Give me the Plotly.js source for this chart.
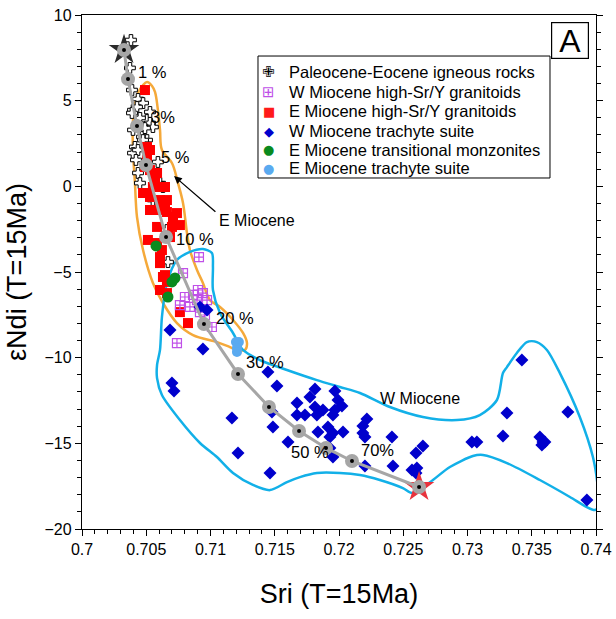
<!DOCTYPE html>
<html><head><meta charset="utf-8">
<script src="https://cdn.plot.ly/plotly-3.0.1.min.js"></script>
<style>html,body{margin:0;padding:0;background:#fff}#chart{width:616px;height:619px}</style>
</head><body><div id="chart"></div>
<script>
// Paleocene-Eocene igneous rocks
const peX = [0.70381,0.70373,0.70389,0.70436,0.70475,0.70397,0.70428,0.70506,0.70529,0.70552,0.70389,0.70397,0.70467,0.70412,0.70397,0.70436,0.70506,0.70475,0.70436,0.70451,0.70591,0.70607,0.70630,0.70552,0.70661,0.70669,0.70451,0.70490,0.70420,0.70529];
const peY = [8.54,6.91,5.62,5.10,4.86,4.45,4.63,3.87,3.70,3.46,4.28,3.29,2.88,2.30,1.94,2.12,2.70,2.70,0.78,0.19,1.42,0.19,-0.04,-0.80,-2.55,-4.42,3.99,3.40,1.54,4.34];
// W Miocene high-Sr/Y granitoids
const wgX = [0.70910,0.70786,0.70801,0.70902,0.70941,0.70895,0.70840,0.70762,0.70973,0.71011,0.70739,0.70918,0.70957,0.70864];
const wgY = [-4.13,-5.06,-6.46,-6.05,-6.23,-6.64,-7.04,-6.93,-6.64,-8.21,-9.15,-7.34,-7.51,-6.34];
// E Miocene high-Sr/Y granitoids
const egX = [0.70490,0.70506,0.70529,0.70506,0.70490,0.70475,0.70529,0.70584,0.70646,0.70529,0.70591,0.70661,0.70739,0.70584,0.70700,0.70762,0.70513,0.70584,0.70607,0.70622,0.70646,0.70661,0.70661,0.70762,0.70825,0.70584,0.70552,0.70607,0.70661,0.70708,0.70685,0.70607,0.70630,0.70607,0.70529,0.70568,0.70646];
const egY = [5.62,2.30,2.12,1.71,1.13,-0.39,-0.62,-0.04,-0.04,-1.38,-1.38,-1.50,-1.56,-2.37,-2.37,-2.26,-3.13,-3.31,-4.13,-3.72,-5.18,-5.58,-6.23,-7.34,-7.98,0.78,-0.04,-0.80,-0.80,-1.79,-2.96,-4.48,-5.29,-6.05,0.95,0.37,-1.09];
// W Miocene trachyte suite
const wtX = [0.70918,0.70973,0.70685,0.70941,0.70700,0.70716,0.71447,0.71517,0.71813,0.71968,0.71774,0.71673,0.71992,0.72023,0.71813,0.71875,0.71968,0.71673,0.71735,0.71828,0.71953,0.71478,0.71167,0.71486,0.71836,0.71914,0.71953,0.72031,0.71929,0.71603,0.71929,0.71953,0.71214,0.71463,0.72217,0.72186,0.72186,0.72202,0.72412,0.72653,0.72599,0.72202,0.72420,0.72568,0.72606,0.72599,0.73034,0.73073,0.73276,0.73307,0.73423,0.73781,0.73563,0.73587,0.73602,0.73579,0.73929];
const wtY = [-7.04,-7.22,-8.39,-9.50,-11.48,-11.95,-10.84,-11.66,-11.83,-11.95,-12.30,-12.65,-12.47,-12.82,-12.88,-13.06,-13.06,-13.35,-13.35,-13.35,-13.35,-13.17,-13.52,-14.05,-14.34,-14.05,-14.40,-14.34,-14.63,-14.92,-15.27,-15.80,-15.57,-16.73,-13.58,-13.99,-14.40,-14.63,-14.63,-15.16,-15.57,-16.33,-16.33,-16.56,-16.44,-16.73,-14.92,-14.92,-14.57,-13.23,-10.14,-13.17,-14.63,-14.92,-14.92,-15.10,-18.31];
// E Miocene transitional monzonites
const emX = [0.70576,0.70724,0.70700,0.70669];
const emY = [-3.48,-5.35,-5.58,-6.46];
// E Miocene trachyte suite
const etX = [0.71198,0.71221,0.71206,0.71206];
const etY = [-9.09,-9.09,-9.44,-9.67];
// Mixing curve nodes
const mixX = [0.70327,0.70358,0.70428,0.70498,0.70654,0.70949,0.71214,0.71455,0.71689,0.71899,0.72101,0.72623];
const mixY = [7.96,6.26,3.52,1.24,-2.96,-8.04,-10.95,-12.88,-14.28,-15.27,-16.03,-17.55];
const pctLabels = ["1 %","3%","5 %","10 %","20 %","30 %","50 %","70%"];
const pctX = [0.70552,0.70630,0.70724,0.70879,0.71190,0.71424,0.71774,0.72303];
const pctY = [6.67,4.05,1.71,-3.07,-7.69,-10.25,-15.51,-15.39];
// E Miocene field (orange)
const eFieldX = [0.70506,0.70545,0.70568,0.70591,0.70607,0.70622,0.70700,0.70747,0.70786,0.70817,0.70840,0.70895,0.70941,0.70996,0.71074,0.71175,0.71253,0.71284,0.71268,0.71206,0.71151,0.71050,0.70864,0.70739,0.70630,0.70552,0.70475,0.70428,0.70412,0.70397,0.70397,0.70436,0.70475,0.70506];
const eFieldY = [6.09,5.86,5.51,4.45,3.29,2.12,1.36,0.19,-0.97,-2.73,-3.72,-4.88,-5.64,-6.64,-7.04,-7.80,-8.56,-9.15,-9.55,-9.55,-9.38,-9.09,-8.68,-7.98,-6.81,-5.64,-3.72,-1.79,0.19,2.12,3.87,5.45,5.91,6.09];
// W Miocene field (blue)
const wFieldX = [0.70739,0.70840,0.70941,0.71011,0.71019,0.71019,0.71074,0.71175,0.71253,0.71385,0.71595,0.71828,0.72007,0.72163,0.72396,0.72653,0.72918,0.73096,0.73229,0.73276,0.73307,0.73384,0.73462,0.73540,0.73618,0.73719,0.73874,0.73976,0.74014,0.74022,0.73991,0.73929,0.73797,0.73563,0.73307,0.73120,0.73042,0.72863,0.72731,0.72622,0.72567,0.72497,0.72318,0.72163,0.72007,0.71828,0.71696,0.71595,0.71463,0.71330,0.71175,0.71050,0.70918,0.70762,0.70622,0.70584,0.70584,0.70607,0.70622,0.70661,0.70739];
const wFieldY = [-4.30,-3.83,-3.66,-3.89,-4.71,-6.05,-7.39,-8.56,-9.55,-10.14,-10.72,-11.31,-11.71,-12.06,-12.88,-13.46,-13.64,-13.35,-12.47,-10.90,-10.55,-9.73,-9.09,-9.09,-9.55,-10.90,-13.46,-15.80,-17.55,-18.72,-18.89,-18.72,-18.13,-17.14,-16.15,-15.68,-15.74,-16.38,-17.14,-17.73,-17.90,-17.61,-17.14,-16.85,-16.73,-16.73,-16.97,-17.26,-17.73,-17.43,-16.73,-15.80,-14.98,-13.64,-12.18,-11.19,-10.43,-9.55,-7.63,-5.64,-4.30];
// Legend entries
const legendNames = ["Paleocene-Eocene igneous rocks","W Miocene high-Sr/Y granitoids","E Miocene high-Sr/Y granitoids","W Miocene trachyte suite","E Miocene transitional monzonites","E Miocene trachyte suite"];
const legendGlyphs = ["✙","⊞","■","◆","●","●"];
const legendColors = ["#000000","#c050e8","#ff1a1a","#0000cc","#0a8a1e","#5aaaf0"];

const FONT = "Arial, 'Liberation Sans', sans-serif";
const traces = [
  {x:eFieldX,y:eFieldY,mode:'lines',line:{color:'#f5a93a',width:2.5,shape:'spline',smoothing:1},hoverinfo:'skip'},
  {x:wFieldX,y:wFieldY,mode:'lines',line:{color:'#12b0e8',width:2.5,shape:'spline',smoothing:0.8},hoverinfo:'skip'},
  {x:peX,y:peY,mode:'markers',name:legendNames[0],
   marker:{symbol:'cross',size:9,color:'#ffffff',line:{color:'#000000',width:1}}},
  {x:egX,y:egY,mode:'markers',name:legendNames[2],
   marker:{symbol:'square',size:10,color:'#ff0000',line:{width:0}}},
  {x:wgX,y:wgY,mode:'markers',name:legendNames[1],
   marker:{symbol:'square-cross-open',size:9,color:'#c050e8',line:{width:1.2}}},
  {x:wtX,y:wtY,mode:'markers',name:legendNames[3],
   marker:{symbol:'diamond',size:10,color:'#0000cc',line:{width:0}}},
  {x:emX,y:emY,mode:'markers',name:legendNames[4],
   marker:{symbol:'circle',size:11,color:'#0a8a1e',line:{width:0}}},
  {x:etX,y:etY,mode:'markers',name:legendNames[5],
   marker:{symbol:'circle',size:10,color:'#5aaaf0',line:{width:0}}},
  {x:[mixX[0]],y:[mixY[0]],mode:'markers',hoverinfo:'skip',
   marker:{symbol:'star',size:23,color:'#2a2a2a',line:{width:0}}},
  {x:[mixX[mixX.length-1]],y:[mixY[mixY.length-1]],mode:'markers',hoverinfo:'skip',
   marker:{symbol:'star',size:23,color:'#e8323c',line:{width:0}}},
  {x:mixX,y:mixY,mode:'lines+markers',hoverinfo:'skip',
   line:{color:'#a6a6a6',width:3},marker:{symbol:'circle',size:14,color:'#a6a6a6'}},
  {x:mixX,y:mixY,mode:'markers',hoverinfo:'skip',
   marker:{symbol:'circle',size:4,color:'#000000'}}
];

const annotations = pctLabels.map((t,i)=>({x:pctX[i],y:pctY[i],text:t,showarrow:false,
  font:{family:FONT,size:16.5,color:'#000'},xanchor:'center',yanchor:'middle'}));
annotations.push({x:0.72630,y:-12.41,text:'W Miocene',showarrow:false,font:{family:FONT,size:16,color:'#000'}});
annotations.push({x:0.71362,y:-2.02,text:'E Miocene',showarrow:false,font:{family:FONT,size:16,color:'#000'}});
annotations.push({x:0.70716,y:0.60,ax:0.71050,ay:-1.56,axref:'x',ayref:'y',text:'',showarrow:true,
  arrowhead:2,arrowsize:1.2,arrowwidth:1.3,arrowcolor:'#000'});
annotations.push({xref:'paper',yref:'paper',x:0.9485,y:0.9513,xanchor:'center',yanchor:'middle',text:'A',showarrow:false,
  font:{family:FONT,size:32,color:'#000'},bordercolor:'#000',borderwidth:1.2,borderpad:0,bgcolor:'#fff',width:36,height:35});

// manual legend (rows)
const legTop = 0.9202, legBottom = 0.6829;
const rowY = [0.8891,0.8502,0.8132,0.7743,0.7374,0.7023];
legendNames.forEach((n,i)=>{
  annotations.push({xref:'paper',yref:'paper',x:0.3638,y:rowY[i],xanchor:'center',yanchor:'middle',text:legendGlyphs[i],
    showarrow:false,font:{family:"'DejaVu Sans', sans-serif",size:(i===0?15:(i===1?15:13)),color:legendColors[i]}});
  annotations.push({xref:'paper',yref:'paper',x:0.3988,y:rowY[i],xanchor:'left',yanchor:'middle',text:n,
    showarrow:false,font:{family:FONT,size:16.5,color:'#000'}});
});

const layout = {
  width:616,height:619,
  margin:{l:82,r:20,t:15,b:90},
  paper_bgcolor:'#fff',plot_bgcolor:'#fff',
  font:{family:FONT,color:'#000'},
  showlegend:false,
  xaxis:{range:[0.7,0.74],dtick:0.005,tick0:0.7,ticks:'outside',ticklen:6,tickwidth:1,tickcolor:'#000',
    showline:true,linecolor:'#000',linewidth:1.2,mirror:true,showgrid:false,zeroline:false,
    minor:{dtick:0.001,ticks:'outside',ticklen:4,tickcolor:'#000',showgrid:false},
    tickfont:{family:FONT,size:16,color:'#000'},
    title:{text:'Sri (T=15Ma)',font:{family:FONT,size:27,color:'#000'},standoff:26}},
  yaxis:{range:[-20,10],dtick:5,tick0:0,ticks:'outside',ticklen:6,tickwidth:1,tickcolor:'#000',
    showline:true,linecolor:'#000',linewidth:1.2,mirror:'ticks',showgrid:false,zeroline:false,
    minor:{dtick:1,ticks:'outside',ticklen:4,tickcolor:'#000',showgrid:false},
    tickfont:{family:FONT,size:16,color:'#000'},
    title:{text:'εNdi (T=15Ma)',font:{family:FONT,size:27,color:'#000'},standoff:10}},
  shapes:[{type:'rect',xref:'paper',yref:'paper',x0:0.3424,x1:0.9105,y0:legBottom,y1:legTop,
    line:{color:'#000',width:1},fillcolor:'#fff',layer:'above'}],
  annotations:annotations
};
Plotly.newPlot('chart',traces.map(t=>Object.assign({showlegend:false},t)),layout,{displayModeBar:false,staticPlot:true});
</script></body></html>
